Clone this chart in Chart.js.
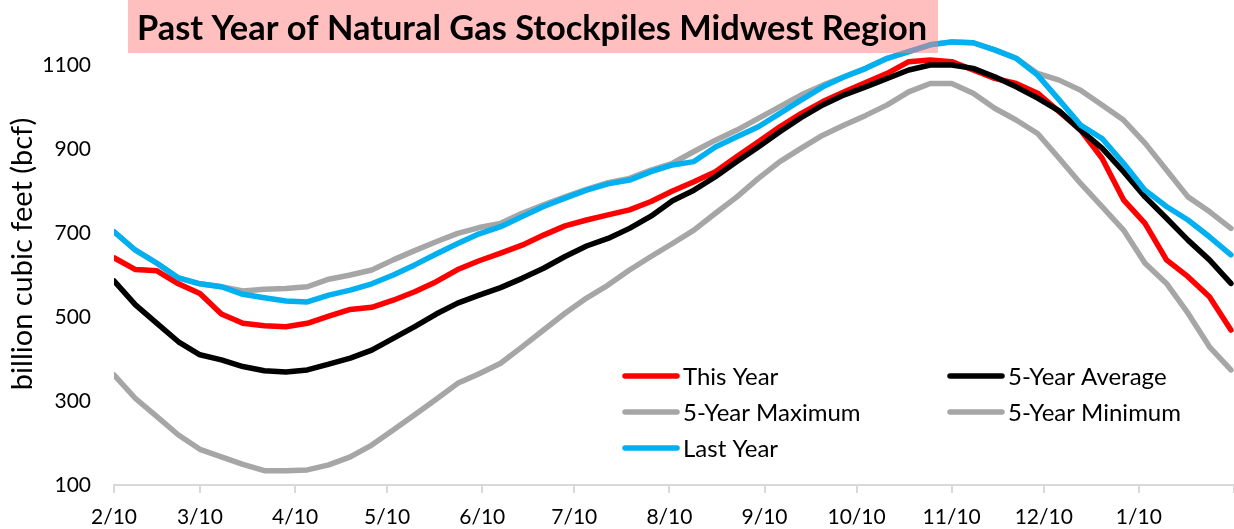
<!DOCTYPE html>
<html>
<head>
<meta charset="utf-8">
<script src="https://cdn.jsdelivr.net/npm/chart.js@4.4.1/dist/chart.umd.min.js"></script>
<style>
  body { margin: 0; background: #fff; }
  #wrap { width: 1234px; height: 529px; }
</style>
</head>
<body>
<div id="wrap"><canvas id="canvas1" width="1234" height="529"></canvas></div>
<script>
const chartTitle = 'Past Year of Natural Gas Stockpiles Midwest Region';

// weekly report dates, 2/10 to 2/9 of the following year
const weekLabels = ['2/10', '2/17', '2/24', '3/3', '3/10', '3/17', '3/24', '3/31', '4/7', '4/14',
    '4/21', '4/28', '5/5', '5/12', '5/19', '5/26', '6/2', '6/9', '6/16', '6/23', '6/30', '7/7',
    '7/14', '7/21', '7/28', '8/4', '8/11', '8/18', '8/25', '9/1', '9/8', '9/15', '9/22', '9/29',
    '10/6', '10/13', '10/20', '10/27', '11/3', '11/10', '11/17', '11/24', '12/1', '12/8', '12/15',
    '12/22', '12/29', '1/5', '1/12', '1/19', '1/26', '2/2', '2/9'];
const tickLabels = ['2/10', '3/10', '4/10', '5/10', '6/10', '7/10', '8/10', '9/10', '10/10', '11/10', '12/10', '1/10', '2/10'];
const yTicks = [100, 300, 500, 700, 900, 1100];

const thisYear = [641, 613, 610, 579, 556, 507, 485, 479, 477, 485, 502, 518, 523, 540, 560, 584, 613, 634,
    652, 671, 695, 717, 731, 743, 755, 775, 800, 822, 846, 882, 917, 953, 985, 1013, 1036, 1058, 1080,
    1108, 1112, 1108, 1088, 1068, 1056, 1033, 989, 945, 878, 779, 723, 636, 596, 548, 469];
const fiveYearAvg = [586, 529, 485, 441, 410, 398, 382, 372, 369, 374, 388, 402, 421, 449, 477, 507, 533, 552,
    570, 592, 616, 644, 669, 687, 711, 740, 777, 802, 834, 870, 905, 941, 975, 1005, 1029, 1048, 1068,
    1088, 1100, 1100, 1092, 1072, 1048, 1021, 991, 945, 902, 846, 786, 735, 683, 636, 580];
const fiveYearMax = [703, 659, 628, 593, 579, 572, 562, 566, 568, 572, 590, 600, 612, 636, 658, 679, 699, 713,
    723, 747, 767, 786, 804, 820, 830, 850, 866, 894, 921, 945, 973, 1001, 1029, 1052, 1072, 1092, 1116,
    1132, 1148, 1155, 1153, 1136, 1116, 1080, 1064, 1040, 1005, 969, 914, 850, 786, 751, 711];
const fiveYearMin = [362, 306, 263, 219, 185, 167, 149, 134, 134, 136, 148, 167, 195, 231, 267, 304, 342, 365,
    390, 429, 469, 509, 545, 576, 612, 644, 675, 707, 747, 786, 830, 870, 902, 933, 957, 980, 1005,
    1036, 1056, 1056, 1033, 997, 969, 937, 878, 818, 763, 707, 628, 580, 509, 429, 374];
const lastYear = [703, 659, 628, 593, 579, 572, 554, 546, 538, 536, 552, 564, 579, 600, 624, 650, 675, 698,
    715, 739, 763, 783, 802, 817, 826, 846, 862, 870, 905, 929, 953, 985, 1017, 1048, 1072, 1092, 1116,
    1132, 1148, 1155, 1153, 1136, 1116, 1076, 1017, 957, 925, 866, 802, 763, 731, 691, 648];

// turn 'm/d' labels into days since the first week
function toDays(list) {
    let year = 2021, prevM = 0;
    return list.map(function (s) {
        const parts = s.split('/').map(Number);
        if (parts[0] < prevM) year++;
        prevM = parts[0];
        return (Date.UTC(year, parts[0] - 1, parts[1]) - Date.UTC(2021, 1, 10)) / 864e5;
    });
}
const weekDays = toDays(weekLabels);
const tickDays = toDays(tickLabels);

const titleBox = {
    id: 'titleBox',
    afterDraw(chart) {
        const ctx = chart.ctx;
        ctx.save();
        ctx.fillStyle = 'rgba(255, 128, 128, 0.5)';
        ctx.fillRect(128, 0, 810, 53);
        ctx.font = 'bold 33px Lato';
        let size = 33 * 791 / ctx.measureText(chartTitle).width;
        ctx.font = 'bold ' + size.toFixed(1) + 'px Lato';
        ctx.fillStyle = '#000';
        ctx.textBaseline = 'alphabetic';
        ctx.fillText(chartTitle, 137, 40);
        ctx.restore();
    }
};

// two-column legend sitting inside the plot
const insideLegend = {
    id: 'insideLegend',
    afterDraw(chart) {
        const ctx = chart.ctx;
        const cols = [623, 948];
        const rows = [376, 412, 448];
        ctx.save();
        ctx.font = '24px Lato';
        ctx.textBaseline = 'middle';
        ctx.lineCap = 'round';
        chart.data.datasets.forEach(function (ds, i) {
            const x = cols[i % 2];
            const y = rows[Math.floor(i / 2)];
            ctx.strokeStyle = ds.borderColor;
            ctx.lineWidth = 5.5;
            ctx.beginPath();
            ctx.moveTo(x + 2, y);
            ctx.lineTo(x + 54, y);
            ctx.stroke();
            ctx.fillStyle = '#000';
            ctx.fillText(ds.label, x + 60, y + 1);
        });
        ctx.restore();
    }
};

function series(label, data, color, order) {
    return {
        label: label,
        data: data,
        borderColor: color,
        backgroundColor: color,
        borderWidth: 5.5,
        pointRadius: 0,
        tension: 0,
        borderJoinStyle: 'round',
        borderCapStyle: 'round',
        order: order
    };
}

let canvas1 = document.getElementById('canvas1');
let chart1 = new Chart(canvas1, {
    type: 'line',
    data: {
        labels: weekDays,
        datasets: [
            series('This Year', thisYear, '#FF0000', 2),
            series('5-Year Average', fiveYearAvg, '#000000', 1),
            series('5-Year Maximum', fiveYearMax, '#A6A6A6', 4),
            series('5-Year Minimum', fiveYearMin, '#A6A6A6', 3),
            series('Last Year', lastYear, '#00B0F0', 0)
        ]
    },
    options: {
        responsive: false,
        animation: false,
        layout: { autoPadding: false, padding: { top: 23, left: 0, right: 0, bottom: 0 } },
        plugins: {
            legend: { display: false },
            title: { display: false },
            tooltip: { enabled: false }
        },
        scales: {
            x: {
                type: 'linear',
                min: 0,
                max: 365,
                afterBuildTicks: function (scale) {
                    scale.ticks = tickDays.map(function (v) { return { value: v }; });
                },
                afterFit: function (scale) {
                    scale.height = 44;
                    scale.paddingLeft = 0;
                    scale.paddingRight = 0;
                },
                ticks: {
                    autoSkip: false,
                    maxRotation: 0,
                    padding: 12,
                    color: '#000',
                    font: { family: 'Lato', size: 21 },
                    callback: function (value, index) {
                        return index < tickLabels.length - 1 ? tickLabels[index] : '';
                    }
                },
                grid: {
                    drawOnChartArea: false,
                    drawTicks: true,
                    tickLength: 8,
                    color: '#D9D9D9',
                    lineWidth: 2
                },
                border: { display: true, color: '#D9D9D9', width: 2 }
            },
            y: {
                min: 100,
                max: 1200,
                afterBuildTicks: function (scale) {
                    scale.ticks = yTicks.map(function (v) { return { value: v }; });
                },
                afterFit: function (scale) {
                    scale.width = 114;
                    scale.paddingTop = 0;
                    scale.paddingBottom = 0;
                },
                ticks: {
                    padding: 23,
                    color: '#000',
                    font: { family: 'Lato', size: 21 },
                    callback: function (value) { return String(value); }
                },
                grid: { display: false, drawTicks: false },
                border: { display: false },
                title: {
                    display: true,
                    text: 'billion cubic feet (bcf)',
                    color: '#000',
                    font: { family: 'Lato', size: 29 },
                    padding: { top: 5, bottom: 0 }
                }
            }
        }
    },
    plugins: [titleBox, insideLegend]
});
</script>
</body>
</html>
